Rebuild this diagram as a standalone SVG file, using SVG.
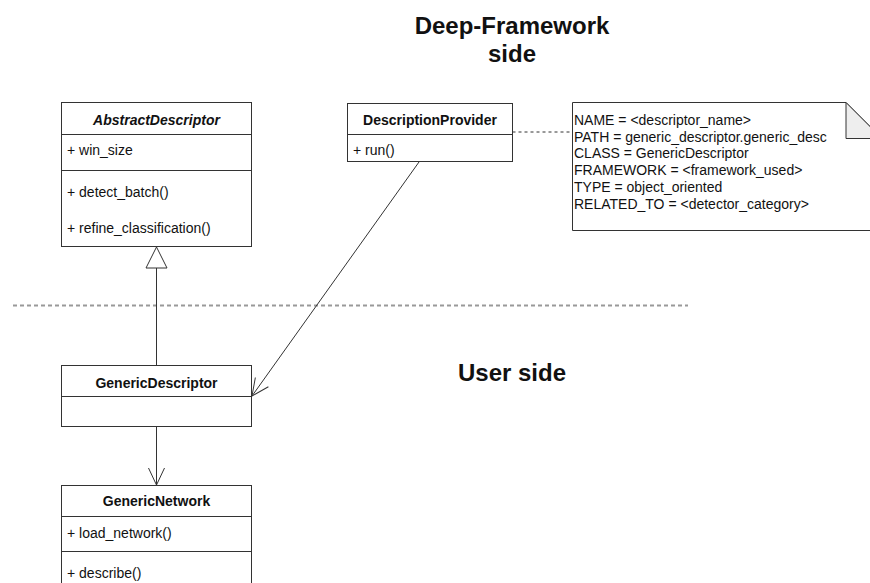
<svg xmlns="http://www.w3.org/2000/svg" width="870" height="583" viewBox="0 0 870 583">
<defs>
<style>
.box{fill:#fff;stroke:#333;stroke-width:1}
.ln{stroke:#333;stroke-width:1;fill:none}
.t{font-family:"Liberation Sans",Arial,sans-serif;font-size:14px;fill:#111}
.b{font-weight:bold;text-anchor:middle}
.h{font-family:"Liberation Sans",Arial,sans-serif;font-size:24px;font-weight:bold;fill:#111;text-anchor:middle}
</style>
<marker id="open" viewBox="-19 -10 21 20" markerWidth="21" markerHeight="20" refX="0" refY="0" orient="auto" markerUnits="userSpaceOnUse" overflow="visible">
<path d="M-17,-8 L0,0 L-17,8" fill="none" stroke="#333" stroke-width="1"/>
</marker>
</defs>
<rect width="870" height="583" fill="#fff"/>
<text class="h" x="512" y="34">Deep-Framework</text>
<text class="h" x="512" y="62">side</text>
<text class="h" x="512" y="381">User side</text>
<line x1="13" y1="305.5" x2="688" y2="305.5" stroke="#999" stroke-width="2" stroke-dasharray="4 3"/>
<g id="AbstractDescriptor">
<rect class="box" x="61.5" y="102.5" width="190" height="144"/>
<line class="ln" x1="61.5" y1="134.5" x2="251.5" y2="134.5"/>
<line class="ln" x1="61.5" y1="170.5" x2="251.5" y2="170.5"/>
<text class="t b" x="156.5" y="125" font-style="italic">AbstractDescriptor</text>
<text class="t" x="67" y="155">+ win_size</text>
<text class="t" x="67" y="196.5">+ detect_batch()</text>
<text class="t" x="67" y="232.5">+ refine_classification()</text>
</g>
<g id="DescriptionProvider">
<rect class="box" x="347.5" y="103.5" width="165" height="58"/>
<line class="ln" x1="347.5" y1="134.5" x2="512.5" y2="134.5"/>
<text class="t b" x="430" y="125">DescriptionProvider</text>
<text class="t" x="353" y="155">+ run()</text>
</g>
<g id="Note">
<path d="M572.5,102.5 H846 L882,138.5 V230.5 H572.5 Z" fill="#fff" stroke="#333"/>
<path d="M846,102.5 V138.5 H882 Z" fill="#eee" stroke="#333"/>
<text class="t" x="574" y="125">NAME = &lt;descriptor_name&gt;</text>
<text class="t" x="574" y="141.7">PATH = generic_descriptor.generic_desc</text>
<text class="t" x="574" y="158.4">CLASS = GenericDescriptor</text>
<text class="t" x="574" y="175.1">FRAMEWORK = &lt;framework_used&gt;</text>
<text class="t" x="574" y="191.8">TYPE = object_oriented</text>
<text class="t" x="574" y="208.5">RELATED_TO = &lt;detector_category&gt;</text>
</g>
<g id="GenericDescriptor">
<rect class="box" x="61.5" y="365.5" width="190" height="61"/>
<line class="ln" x1="61.5" y1="396.5" x2="251.5" y2="396.5"/>
<text class="t b" x="156.5" y="387.5">GenericDescriptor</text>
</g>
<g id="GenericNetwork">
<rect class="box" x="61.5" y="485.5" width="190" height="110"/>
<line class="ln" x1="61.5" y1="516.5" x2="251.5" y2="516.5"/>
<line class="ln" x1="61.5" y1="551.5" x2="251.5" y2="551.5"/>
<text class="t b" x="156.5" y="506">GenericNetwork</text>
<text class="t" x="67" y="538">+ load_network()</text>
<text class="t" x="67" y="578">+ describe()</text>
</g>
<g id="connectors">
<line class="ln" x1="156.5" y1="365.5" x2="156.5" y2="268"/>
<polygon points="156.5,247 146,268 167,268" fill="#fff" stroke="#333"/>
<line class="ln" x1="419" y1="162" x2="252" y2="396" marker-end="url(#open)"/>
<line class="ln" x1="156.5" y1="426.5" x2="156.5" y2="485" marker-end="url(#open)"/>
<line class="ln" x1="512.5" y1="132" x2="572.5" y2="132" stroke-dasharray="3 3"/>
</g>
</svg>
